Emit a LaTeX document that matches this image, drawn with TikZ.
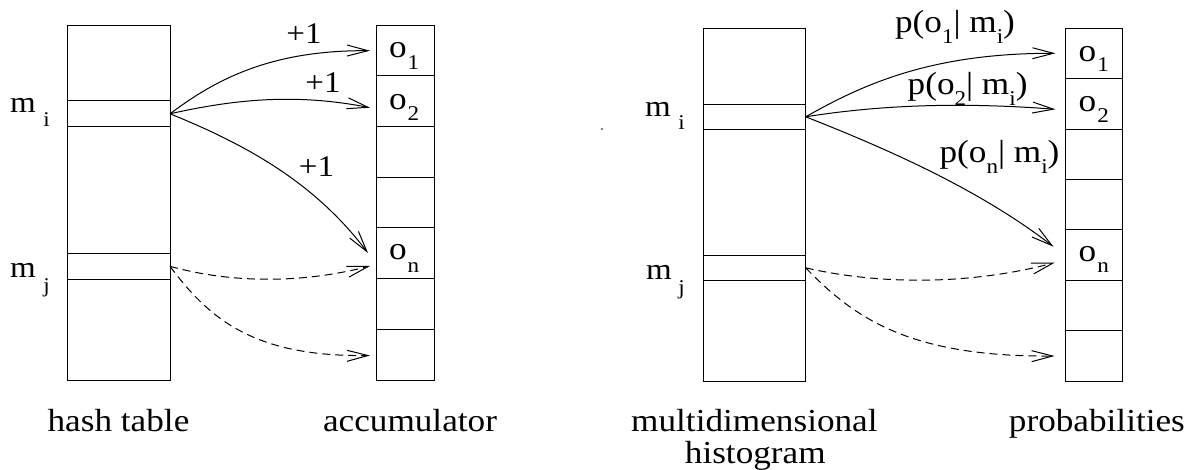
\documentclass[tikz,border=0pt]{standalone}
\usepackage{graphicx}
\usepackage{fontspec}
\setmainfont{Liberation Serif}
\usetikzlibrary{arrows.meta}
\newcommand\bigf{\fontsize{32}{38}\selectfont}
\newcommand\midf{\fontsize{30}{36}\selectfont}
\newcommand\subf{\fontsize{21}{24}\selectfont}
\newcommand\sbs[2][12pt]{\raisebox{-#1}{\subf #2}}
\newcommand\st[1]{\scalebox{1.1}[1]{#1}}
\begin{document}
\begin{tikzpicture}[x=1pt,y=-1pt,
  frame/.style={draw, line width=0.9pt, inner sep=0pt, outer sep=0pt},
  lbl/.style={inner sep=0pt, outer sep=0pt, font=\bigf},
  arr/.style={line width=1pt, -{Straight Barb[length=21pt,width=11pt,line width=1pt]}},
  darr/.style={arr, dash pattern=on 8pt off 5pt}
]
\useasboundingbox (0,0) rectangle (1202,470);

% ---------------- left: hash table ----------------
\node[frame, minimum width=103pt, minimum height=355pt] (ht) at (118.5,202.5) {};
\node[frame, minimum width=103pt, minimum height=25.7pt] (lmi) at (118.5,113.8) {};
\node[frame, minimum width=103pt, minimum height=26pt] (lmj) at (118.5,266.3) {};
% accumulator cells
\foreach \k/\c in {1/50.36,2/101.07,3/151.79,4/202.5,5/253.21,6/303.93,7/354.64}
  \node[frame, minimum width=58pt, minimum height=50.71pt] (a\k) at (405,\c) {};

\node[lbl, anchor=base west] (tmi) at (10,113) {\st{\midf m\hspace{7pt}\sbs[14pt]{i}}};
\node[lbl, anchor=base west] (tmj) at (10,278) {\st{\midf m\hspace{7pt}\sbs[15pt]{j}}};
\node[lbl, anchor=base west] (o1) at (389,58) {\st{o\kern1pt\sbs[12pt]{1}}};
\node[lbl, anchor=base west] (o2) at (389,110) {\st{o\kern1pt\sbs[11pt]{2}}};
\node[lbl, anchor=base west] (on) at (389,260) {\st{o\kern1pt\sbs[13pt]{n}}};
\node[lbl, anchor=base] (p1) at (304,44) {\st{\midf +1}};
\node[lbl, anchor=base] (p2) at (323,93) {\st{\midf +1}};
\node[lbl, anchor=base] (p3) at (316.5,177) {\st{\midf +1}};
\node[lbl, anchor=base] (cht) at (118.5,431.7) {\st{hash table}};
\node[lbl, anchor=base] (cac) at (410,431.7) {\st{accumulator}};

\coordinate (le1) at (370,50.7);
\coordinate (le2) at (370,107.7);
\coordinate (le3) at (368,253);
\coordinate (le4) at (370,266);
\coordinate (le5) at (370,355.5);
\draw[arr] (lmi.east) .. controls (215,80) and (270,50) .. (le1);
\draw[arr] (lmi.east) .. controls (240,98) and (300,94) .. (le2);
\draw[arr] (lmi.east) .. controls (260,150) and (320,190) .. (le3);
\draw[darr] (lmj.east) .. controls (230,283) and (300,284) .. (le4);
\draw[darr] (lmj.east) .. controls (210,320) and (255,357) .. (le5);

% ---------------- right: histogram ----------------
\node[frame, minimum width=101.9pt, minimum height=352.7pt] (mh) at (754.75,204.65) {};
\node[frame, minimum width=101.9pt, minimum height=25pt] (rmi) at (754.75,116.8) {};
\node[frame, minimum width=101.9pt, minimum height=25.7pt] (rmj) at (754.75,267.85) {};
\foreach \k/\c in {1/53.49,2/103.88,3/154.27,4/204.65,5/255.04,6/305.42,7/355.81}
  \node[frame, minimum width=57.2pt, minimum height=50.39pt] (b\k) at (1093.6,\c) {};

\node[lbl, anchor=base west] (rtmi) at (645,117) {\st{\midf m\hspace{7pt}\sbs[13pt]{i}}};
\node[lbl, anchor=base west] (rtmj) at (646,280) {\st{\midf m\hspace{6pt}\sbs[14pt]{j}}};
\node[lbl, anchor=base west] (ro1) at (1078.6,61.7) {\st{o\kern1pt\sbs[10pt]{1}}};
\node[lbl, anchor=base west] (ro2) at (1078.6,111.7) {\st{o\kern1pt\sbs[11pt]{2}}};
\node[lbl, anchor=base west] (ron) at (1078.6,262) {\st{o\kern1pt\sbs[11pt]{n}}};
\node[lbl, anchor=base] (q1) at (955,33) {\st{p(o\sbs[11pt]{1}| m\sbs[11pt]{i})}};
\node[lbl, anchor=base] (q2) at (967.6,95) {\st{p(o\sbs[11pt]{2}| m\sbs[11pt]{i})}};
\node[lbl, anchor=base] (q3) at (999.5,163) {\st{p(o\sbs[11pt]{n}| m\sbs[11pt]{i})}};
\node[lbl, anchor=base] (cmh) at (754.4,431.7) {\st{multidimensional}};
\node[lbl, anchor=base] (cmh2) at (755.3,463.3) {\st{histogram}};
\node[lbl, anchor=base] (cpr) at (1096.9,431.7) {\st{probabilities}};

\coordinate (re1) at (1055.4,53.3);
\coordinate (re2) at (1055.4,109.3);
\coordinate (re3) at (1053.5,246.7);
\coordinate (re4) at (1054.6,262.7);
\coordinate (re5) at (1054.6,356);
\draw[arr] (rmi.east) .. controls (862,85) and (930,53) .. (re1);
\draw[arr] (rmi.east) .. controls (880,105) and (960,102) .. (re2);
\draw[arr] (rmi.east) .. controls (890,150) and (980,190) .. (re3);
\draw[darr] (rmj.east) .. controls (880,285) and (970,285) .. (re4);
\draw[darr] (rmj.east) .. controls (856,320) and (912,357) .. (re5);

% stray dot
\fill[gray] (600.7,128.3) rectangle (602.7,130.3);
\end{tikzpicture}
\end{document}
